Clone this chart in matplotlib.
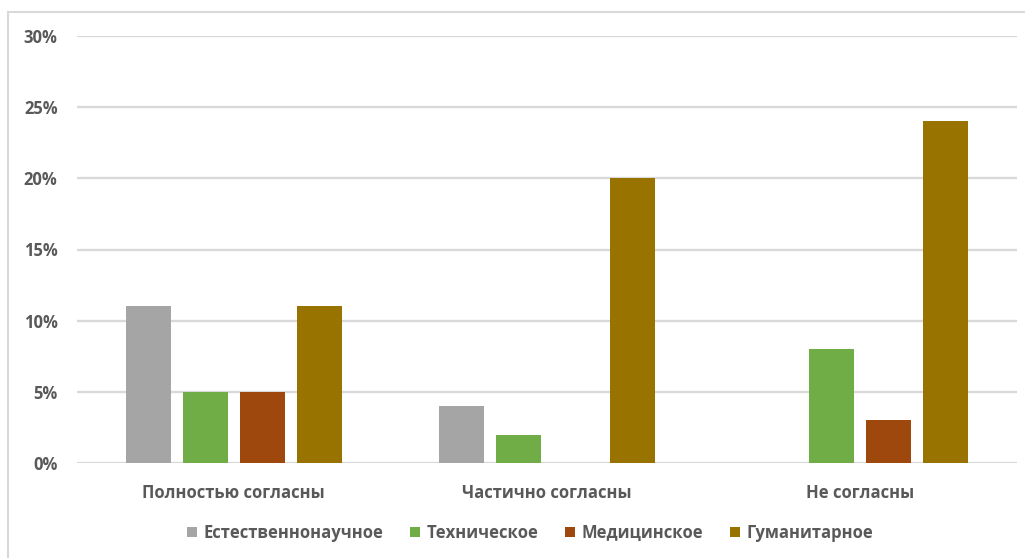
import numpy as np
import matplotlib.pyplot as plt
from matplotlib.patches import Rectangle
from matplotlib.ticker import PercentFormatter

categories = ["Полностью согласны", "Частично согласны", "Не согласны"]
series_names = ["Естественнонаучное", "Техническое", "Медицинское", "Гуманитарное"]
natural = [11, 4, 0]
technical = [5, 2, 8]
medical = [5, 0, 3]
humanities = [11, 20, 24]

colors = ["#A5A5A5", "#70AD47", "#9E480E", "#997300"]
text_color = "#595959"
grid_color = "#D9D9D9"

plt.rcParams["font.family"] = ["Open Sans", "DejaVu Sans"]

fig = plt.figure(figsize=(10.25, 5.58), dpi=100)
ax = fig.add_axes([77 / 1025, 1 - 463 / 558, 940 / 1025, 427 / 558])

# chart frame
fig.patches.append(Rectangle((8 / 1025, -0.1), 1.2, 1 - 12 / 558 + 0.1,
                             transform=fig.transFigure, fill=False,
                             edgecolor=grid_color, linewidth=1.5))

x = np.arange(len(categories))
width = 0.143
step = 0.182
all_values = [natural, technical, medical, humanities]
for i, (name, vals) in enumerate(zip(series_names, all_values)):
    ax.bar(x + (i - 1.5) * step, vals, width, color=colors[i], label=name,
           zorder=3)

ax.set_xlim(-0.5, 2.5)
ax.set_ylim(0, 30)
ax.set_yticks(range(0, 31, 5))
ax.yaxis.set_major_formatter(PercentFormatter(decimals=0))
ax.set_xticks(x)
ax.set_xticklabels(categories)
ax.grid(axis="y", color=grid_color, linewidth=1.7, zorder=0)
for s in ax.spines.values():
    s.set_visible(False)
ax.tick_params(length=0, colors=text_color, labelsize=12)
ax.tick_params(axis="y", pad=14)
ax.tick_params(axis="x", pad=15)
for lbl in ax.get_xticklabels() + ax.get_yticklabels():
    lbl.set_fontweight("bold")

ax.legend(loc="center", bbox_to_anchor=(530 / 1025, 1 - 533 / 558),
          bbox_transform=fig.transFigure, ncol=4, frameon=False,
          handlelength=0.6, handleheight=0.6, handletextpad=0.4,
          columnspacing=1.6,
          prop={"weight": "bold", "size": 12},
          labelcolor=text_color)

fig.savefig("out.png", dpi=100)
